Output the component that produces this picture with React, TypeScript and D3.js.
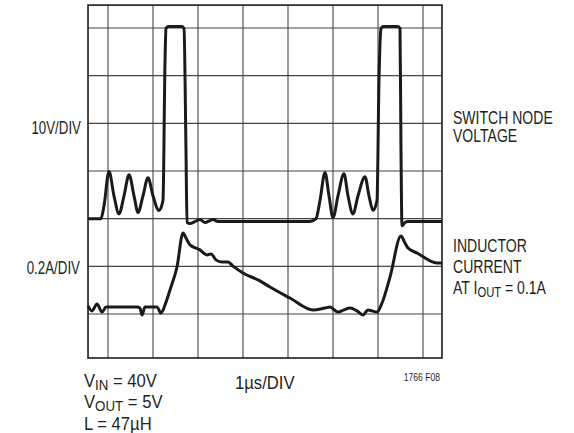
import { useEffect, useRef } from 'react';
import * as d3 from 'd3';

// switch node voltage, time in µs, volts (10V/DIV)
const voltageTime = [
  -0.444, -0.156, -0.089, 0.022, 0.133, 0.244, 0.356, 0.467, 0.578, 0.667, 0.778, 0.889, 1.0, 1.133,
  1.222, 1.267, 1.289, 1.333, 1.644, 1.689, 1.733, 1.756, 1.822, 1.933, 2.044, 2.156, 2.267, 2.333,
  2.444, 4.489, 4.622, 4.711, 4.822, 4.911, 5.0, 5.111, 5.244, 5.333, 5.444, 5.556, 5.711, 5.8, 5.889,
  5.978, 6.022, 6.067, 6.111, 6.444, 6.489, 6.511, 6.533, 6.6, 6.667, 7.422,
];
const voltageValues = [
  0, 0, 2.7, 9.9, 4.8, 1.0, 4.8, 9.2, 4.8, 1.3, 4.8, 8.6, 4.8, 1.7,
  3.8, 33.1, 39.9, 40.3, 40.3, 39.9, 14.3, -0.8, -1.0, -0.6, -0.2, -0.8, -0.4, -0.2,
  -0.6, -0.6, 0, 3.8, 9.7, 4.8, 0.2, 4.8, 9.4, 4.8, 1.0, 4.8, 8.8, 4.8, 1.7,
  3.8, 29.0, 39.9, 40.3, 40.3, 39.9, 14.3, -1.5, -0.8, -0.6, -0.6,
];

// inductor current, time in µs, amps (0.2A/DIV)
const currentTime = [
  -0.444, -0.356, -0.244, -0.133, -0.044, 0.644, 0.711, 0.756, 0.822, 1.089, 1.178, 1.267, 1.378,
  1.533, 1.667, 1.733, 1.822, 2.044, 2.2, 2.289, 2.4, 2.533, 2.667, 2.778, 3.0, 3.378, 3.6, 4.044,
  4.556, 4.822, 4.933, 5.111, 5.244, 5.378, 5.533, 5.667, 5.778, 5.867, 5.978, 6.089, 6.267, 6.511,
  6.6, 6.667, 6.867, 7.311, 7.422,
];
const currentValues = [
  0.034, 0.013, 0.042, 0.008, 0.029, 0.029, 0.025, -0.004, 0.029, 0.029, 0.004, 0.038, 0.101,
  0.197, 0.34, 0.319, 0.29, 0.269, 0.248, 0.252, 0.227, 0.218, 0.218, 0.201, 0.172, 0.139, 0.113, 0.067,
  0.017, 0.025, 0.029, 0.008, 0.017, 0.025, 0.013, -0.004, 0.017, 0.013, 0.008, 0.046, 0.155, 0.327,
  0.298, 0.277, 0.256, 0.214, 0.214,
];

const timeDivs = [0, 1, 2, 3, 4, 5, 6, 7];
const levelDivs = [1, 2, 3, 4, 5, 6, 7];

const W = 574;
const H = 433;
const FONT = "'Liberation Sans', Arial, Helvetica, sans-serif";

export default function App() {
  const svgRef = useRef<SVGSVGElement>(null);

  useEffect(() => {
    if (!svgRef.current) return;
    const svg = d3.select(svgRef.current);
    svg.selectAll('*').remove();

    // screen is a crop of the grid: 1 div = 45px across, 47.67px down
    const x = d3.scaleLinear().domain([0, 7]).range([108, 423]);
    const div = d3.scaleLinear().domain([1, 7]).range([314, 28]);
    const tMin = -0.444;
    const tMax = 7.422;
    const dMin = 0.077;
    const dMax = 7.48;

    const voltDiv = (v: number) => 3 + v / 10;
    const ampDiv = (a: number) => 1 + a / 0.2;

    const g = svg.append('g');

    g.selectAll('.vgrid')
      .data(timeDivs)
      .enter()
      .append('line')
      .attr('x1', d => x(d))
      .attr('x2', d => x(d))
      .attr('y1', div(dMax))
      .attr('y2', div(dMin))
      .attr('stroke', '#444')
      .attr('stroke-width', 1.1);

    g.selectAll('.hgrid')
      .data(levelDivs)
      .enter()
      .append('line')
      .attr('x1', x(tMin))
      .attr('x2', x(tMax))
      .attr('y1', d => div(d))
      .attr('y2', d => div(d))
      .attr('stroke', '#444')
      .attr('stroke-width', 1.1);

    g.append('rect')
      .attr('x', x(tMin))
      .attr('y', div(dMax))
      .attr('width', x(tMax) - x(tMin))
      .attr('height', div(dMin) - div(dMax))
      .attr('fill', 'none')
      .attr('stroke', '#2a2a2a')
      .attr('stroke-width', 1.7);

    const line = d3.line<[number, number]>()
      .x(d => x(d[0]))
      .y(d => div(d[1]))
      .curve(d3.curveMonotoneX);

    const vPts = voltageTime.map((t, i) => [t, voltDiv(voltageValues[i])] as [number, number]);
    const iPts = currentTime.map((t, i) => [t, ampDiv(currentValues[i])] as [number, number]);

    [vPts, iPts].forEach(pts => {
      g.append('path')
        .attr('d', line(pts))
        .attr('fill', 'none')
        .attr('stroke', '#1a1a1a')
        .attr('stroke-width', 3)
        .attr('stroke-linejoin', 'round');
    });

    // condensed look: Arial squeezed horizontally
    const txt = (tx: number, ty: number, s: string, anchor = 'start', size = 18, squeeze = 0.78) =>
      svg.append('text')
        .attr('transform', `translate(${tx},${ty}) scale(${squeeze},1)`)
        .attr('text-anchor', anchor)
        .attr('font-family', FONT)
        .attr('font-size', size)
        .attr('fill', '#231f20')
        .text(s);

    txt(81, 134, '10V/DIV', 'end', 18, 0.74);
    txt(80, 274, '0.2A/DIV', 'end', 18, 0.74);
    txt(453, 124, 'SWITCH NODE');
    txt(453, 142, 'VOLTAGE');
    txt(453, 252, 'INDUCTOR');
    txt(453, 273, 'CURRENT');
    txt(235, 389, '1µs/DIV', 'start', 18.5, 0.9);
    txt(440, 381, '1766 F08', 'end', 11);

    const withSub = (tx: number, ty: number, a: string, b: string, c: string, size = 18, squeeze = 0.78) => {
      const t = txt(tx, ty, a, 'start', size, squeeze);
      t.append('tspan').attr('dy', 2.5).attr('font-size', size * 0.8).text(b);
      t.append('tspan').attr('dy', -2.5).text(c);
    };
    withSub(453, 294, 'AT I', 'OUT', ' = 0.1A');
    withSub(84, 387, 'V', 'IN', ' = 40V', 18.5, 0.9);
    withSub(84, 408, 'V', 'OUT', ' = 5V', 18.5, 0.9);
    txt(84, 429.5, 'L = 47µH', 'start', 18.5, 0.9);
  }, []);

  return (
    <svg
      ref={svgRef}
      width={W}
      height={H}
      style={{ position: 'absolute', left: 0, top: 0, background: '#fff' }}
    />
  );
}
